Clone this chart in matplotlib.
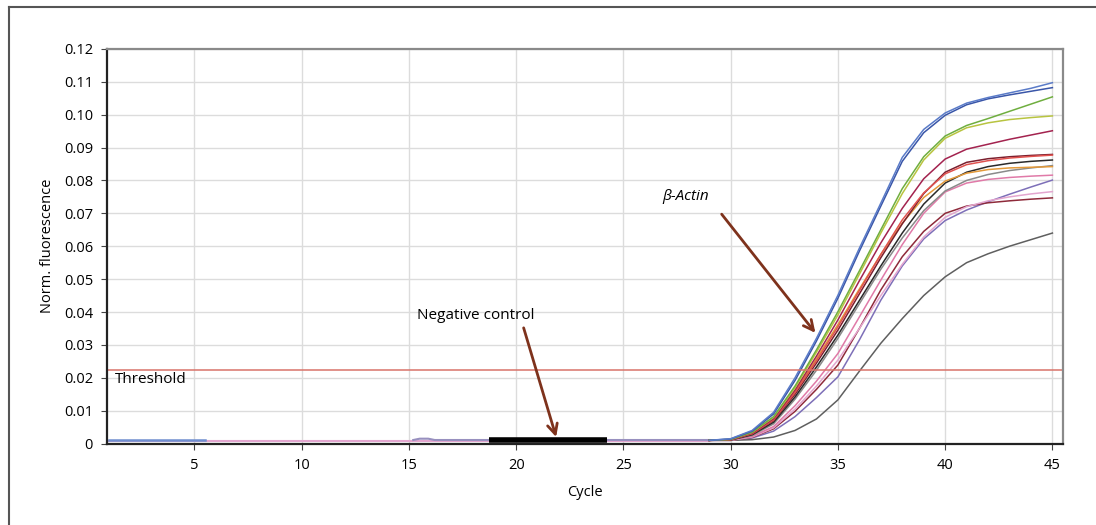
import matplotlib
matplotlib.use("Agg")
import matplotlib.pyplot as plt
from matplotlib.lines import Line2D

plt.rcParams["font.family"] = ["Open Sans", "DejaVu Sans"]

# amplification cycles (curves are flat before cycle 29)
cycles = [29, 30, 31, 32, 33, 34, 35, 36, 37, 38, 39, 40, 41, 42, 43, 44, 45]

blue_a = [0.0010, 0.0015, 0.0040, 0.0095, 0.0200, 0.0320, 0.0451, 0.0594, 0.0731, 0.0870, 0.0955, 0.1005, 0.1035, 0.1052, 0.1066, 0.1080, 0.1097]
blue_b = [0.0010, 0.0014, 0.0038, 0.0090, 0.0192, 0.0312, 0.0442, 0.0585, 0.0722, 0.0858, 0.0945, 0.0998, 0.1030, 0.1048, 0.1060, 0.1071, 0.1082]
green = [0.0010, 0.0013, 0.0035, 0.0082, 0.0175, 0.0285, 0.0401, 0.0525, 0.0650, 0.0775, 0.0872, 0.0935, 0.0967, 0.0988, 0.1010, 0.1032, 0.1054]
yellow_green = [0.0010, 0.0013, 0.0034, 0.0080, 0.0170, 0.0278, 0.0391, 0.0515, 0.0640, 0.0760, 0.0862, 0.0928, 0.0960, 0.0975, 0.0985, 0.0991, 0.0996]
crimson = [0.0010, 0.0012, 0.0032, 0.0076, 0.0163, 0.0266, 0.0376, 0.0495, 0.0610, 0.0715, 0.0805, 0.0865, 0.0895, 0.0910, 0.0925, 0.0938, 0.0951]
red = [0.0010, 0.0012, 0.0030, 0.0072, 0.0155, 0.0252, 0.0355, 0.0465, 0.0575, 0.0680, 0.0762, 0.0820, 0.0848, 0.0860, 0.0868, 0.0873, 0.0877]
dark_red = [0.0010, 0.0012, 0.0029, 0.0070, 0.0150, 0.0245, 0.0345, 0.0455, 0.0565, 0.0668, 0.0760, 0.0825, 0.0855, 0.0866, 0.0872, 0.0876, 0.0879]
orange = [0.0010, 0.0012, 0.0031, 0.0074, 0.0158, 0.0258, 0.0362, 0.0470, 0.0575, 0.0670, 0.0748, 0.0798, 0.0822, 0.0833, 0.0838, 0.0840, 0.0842]
black = [0.0010, 0.0011, 0.0027, 0.0065, 0.0142, 0.0233, 0.0330, 0.0435, 0.0540, 0.0640, 0.0728, 0.0792, 0.0825, 0.0842, 0.0852, 0.0858, 0.0862]
gray = [0.0010, 0.0011, 0.0025, 0.0060, 0.0135, 0.0223, 0.0320, 0.0425, 0.0530, 0.0625, 0.0708, 0.0768, 0.0800, 0.0818, 0.0830, 0.0838, 0.0845]
pink = [0.0010, 0.0011, 0.0022, 0.0052, 0.0115, 0.0190, 0.0274, 0.0385, 0.0497, 0.0605, 0.0700, 0.0765, 0.0792, 0.0803, 0.0809, 0.0813, 0.0816]
light_pink = [0.0010, 0.0010, 0.0020, 0.0048, 0.0105, 0.0175, 0.0254, 0.0350, 0.0450, 0.0545, 0.0628, 0.0688, 0.0720, 0.0738, 0.0750, 0.0759, 0.0766]
dark_red_low = [0.0010, 0.0010, 0.0019, 0.0045, 0.0098, 0.0165, 0.0239, 0.0350, 0.0467, 0.0568, 0.0645, 0.0700, 0.0722, 0.0732, 0.0738, 0.0743, 0.0747]
purple = [0.0010, 0.0010, 0.0017, 0.0038, 0.0082, 0.0140, 0.0203, 0.0315, 0.0436, 0.0540, 0.0622, 0.0678, 0.0710, 0.0735, 0.0758, 0.0780, 0.0801]
dark_gray = [0.0010, 0.0010, 0.0012, 0.0020, 0.0040, 0.0075, 0.0133, 0.0220, 0.0305, 0.0380, 0.0450, 0.0507, 0.0550, 0.0577, 0.0600, 0.0620, 0.0640]

# flat baseline pieces seen before the rise
base_blue_x = [1, 5.5]
base_blue_y = [0.0012, 0.0012]
base_pink_x = [1, 29]
base_pink_y = [0.0008, 0.0008]
base_mix_x = [15.2, 15.5, 15.9, 16.2, 29]
base_mix_y = [0.0011, 0.0015, 0.0015, 0.0011, 0.0011]

# negative control sample
neg_x = [18.75, 24.25]
neg_y = [0.0012, 0.0012]

threshold = 0.0224

curves = [
    (purple, "#7d6fb8"), (dark_gray, "#5f5f5f"), (dark_red_low, "#8e2a3a"),
    (light_pink, "#e3a6cf"), (pink, "#e07aa8"), (gray, "#8a8a8a"),
    (black, "#2a2a2a"), (orange, "#e39a3a"), (dark_red, "#7b1f2e"),
    (red, "#e0524f"), (crimson, "#a3234f"), (yellow_green, "#b8c440"),
    (green, "#6fae3f"), (blue_b, "#3a56a8"), (blue_a, "#5a7bc8"),
]

fig = plt.figure(figsize=(10.96, 5.25), dpi=100)
ax = fig.add_axes([0.0976, 0.155, 0.8724, 0.752])

# grid
ax.set_axisbelow(True)
ax.grid(True, color="#dcdcdc", lw=1.0)

# baselines
ax.plot(base_pink_x, base_pink_y, color="#e3a6cf", lw=1.5)
ax.plot(base_mix_x, base_mix_y, color="#9890bf", lw=1.5)
ax.plot(base_blue_x, base_blue_y, color="#6f8fd0", lw=1.8)

# amplification curves
for vals, col in curves:
    ax.plot(cycles, vals, color=col, lw=1.1)

ax.plot(neg_x, neg_y, color="black", lw=4, solid_capstyle="butt")

# threshold line
ax.axhline(threshold, color="#d9736a", lw=1.1)
ax.text(1.28, 0.0196, "Threshold", fontsize=11, va="center", ha="left")

# annotations
arrow_col = "#7e321c"
ax.text(27.9, 0.075, "β-Actin", fontsize=11, style="italic", ha="center", va="center")
ax.annotate("", xy=(34.03, 0.033), xytext=(29.5, 0.0704),
            arrowprops=dict(arrowstyle="->", color=arrow_col, lw=2, mutation_scale=18))
ax.text(18.1, 0.0389, "Negative control", fontsize=11, ha="center", va="center")
ax.annotate("", xy=(21.9, 0.0012), xytext=(20.31, 0.036),
            arrowprops=dict(arrowstyle="->", color=arrow_col, lw=2, mutation_scale=18))

ax.set_xlim(0.92, 45.5)
ax.set_ylim(0, 0.12)
ax.set_xticks([5, 10, 15, 20, 25, 30, 35, 40, 45])
yt = [i / 100 for i in range(13)]
ax.set_yticks(yt)
ax.set_yticklabels(["0"] + [f"{v:.2f}" for v in yt[1:]])
ax.tick_params(labelsize=10.5, length=4, color="#444444", pad=6)
ax.set_xlabel("Cycle", fontsize=10.5, labelpad=9)
ax.set_ylabel("Norm. fluorescence", fontsize=10.5, labelpad=6)

ax.spines["left"].set_color("#222222")
ax.spines["left"].set_linewidth(1.6)
ax.spines["bottom"].set_color("#222222")
ax.spines["bottom"].set_linewidth(1.6)
for s in ["top", "right"]:
    ax.spines[s].set_color("#8a8a8a")
    ax.spines[s].set_linewidth(1.6)

# outer frame: only top and left edges show in the picture
fig.add_artist(Line2D([9 / 1096, 1.0], [1 - 7 / 525, 1 - 7 / 525], color="#555555", lw=1.5))
fig.add_artist(Line2D([9 / 1096, 9 / 1096], [0.0, 1 - 7 / 525], color="#555555", lw=1.5))

fig.savefig("out.png", dpi=100)
